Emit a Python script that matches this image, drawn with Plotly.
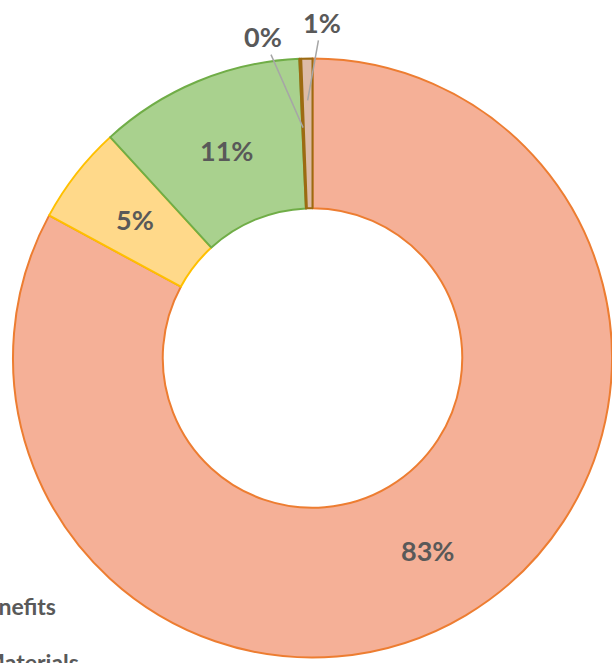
import math
import plotly.graph_objects as go

# ---- data ----
categories = ["Salaries & Benefits", "Supplies & Materials", "Services", "Equipment", "Other"]
values = [82.9, 5.3, 11.1, 0.1, 0.6]
labels_text = ["83%", "5%", "11%", "0%", "1%"]
fill_colors = ["#F5B097", "#FFD98A", "#A9D18E", "#C9A27A", "#DDBBA6"]
line_colors = ["#ED7D31", "#FFC000", "#70AD47", "#9C6B12", "#9C6B12"]
legend_texts = ["Salaries & Benefits", "Supplies & Materials"]

W, H = 612, 663
dom_x = [13 / W, 1.0]
dom_y = [5 / H, 605 / H]
hole = 0.5
FONT = "Lato, sans-serif"
LBL_SIZE = 27

fig = go.Figure(go.Pie(
    labels=categories,
    values=values,
    sort=False,
    direction="clockwise",
    rotation=0,
    hole=hole,
    textinfo="none",
    marker=dict(colors=fill_colors, line=dict(color=line_colors, width=2)),
    domain=dict(x=dom_x, y=dom_y),
    showlegend=False,
    hoverinfo="label+percent",
))

# geometry of the pie (derived from domain)
cx = (dom_x[0] + dom_x[1]) / 2 * W
cy = (1 - (dom_y[0] + dom_y[1]) / 2) * H
R = min((dom_x[1] - dom_x[0]) * W, (dom_y[1] - dom_y[0]) * H) / 2

total = sum(values)
cum = 0
mids = []
for v in values:
    mids.append((cum + v / 2) / total * 360)
    cum += v


def pt(angle_deg, r):
    a = math.radians(angle_deg)
    return cx + r * math.sin(a), cy - r * math.cos(a)


lbl_font = dict(family=FONT, size=LBL_SIZE, color="#595959", weight="bold")

# labels inside the big slices at mid-ring radius
r_mid = (R + hole * R) / 2
for i in range(3):
    px, py = pt(mids[i], r_mid)
    fig.add_annotation(
        x=px / W, y=1 - py / H, xref="paper", yref="paper",
        text=labels_text[i], showarrow=False,
        xanchor="center", yanchor="middle", font=lbl_font,
    )

# outside labels with leader lines for the tiny slices
offsets = {3: (0.77, (-40, -91)), 4: (0.86, (14, -78))}
for i, (rf, (ax, ay)) in offsets.items():
    px, py = pt(mids[i], rf * R)
    fig.add_annotation(
        x=px / W, y=1 - py / H, xref="paper", yref="paper",
        text=labels_text[i], showarrow=True, arrowhead=0,
        arrowcolor="#A6A6A6", arrowwidth=1.5,
        ax=ax, ay=ay, axref="pixel", ayref="pixel", font=lbl_font,
    )

# partially visible legend at bottom-left
for txt, xx, yy in zip(legend_texts, [58, 81], [606, 662]):
    fig.add_annotation(
        x=xx / W, y=1 - yy / H, xref="paper", yref="paper",
        xanchor="right", yanchor="middle", showarrow=False,
        text=txt, font=dict(family=FONT, size=23, color="#595959", weight="bold"),
    )

fig.update_layout(
    width=W, height=H,
    margin=dict(l=0, r=0, t=0, b=0),
    paper_bgcolor="white",
    plot_bgcolor="white",
)

fig.write_html("out.html")
